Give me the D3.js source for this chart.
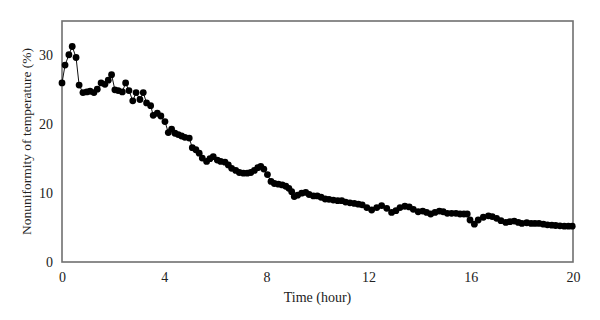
<!DOCTYPE html>
<html>
<head>
<meta charset="utf-8">
<script src="https://cdn.jsdelivr.net/npm/d3@7"></script>
<style>
  html, body { margin: 0; padding: 0; background: #fff; }
  svg { display: block; }
  text { font-family: "Liberation Serif", "DejaVu Serif", serif; fill: #222; }
</style>
</head>
<body>
<svg id="chart" width="600" height="320"></svg>
<script>
const times = [0,0.12,0.27,0.40,0.55,0.67,0.82,0.97,1.10,1.25,1.38,1.53,1.68,1.81,1.94,2.07,2.20,2.36,2.49,2.62,2.77,2.90,3.05,3.18,3.31,3.47,3.57,3.73,3.87,4.03,4.16,4.29,4.42,4.55,4.68,4.81,4.98,5.10,5.24,5.37,5.49,5.66,5.79,5.92,6.08,6.21,6.38,6.51,6.64,6.80,6.94,7.10,7.25,7.39,7.53,7.66,7.78,7.90,8.04,8.18,8.31,8.47,8.62,8.76,8.88,8.99,9.09,9.22,9.38,9.54,9.67,9.84,9.99,10.14,10.30,10.45,10.62,10.79,10.95,11.10,11.27,11.44,11.60,11.75,11.93,12.12,12.32,12.51,12.71,12.90,13.07,13.23,13.42,13.59,13.75,13.94,14.12,14.27,14.43,14.60,14.77,14.92,15.08,15.25,15.42,15.58,15.73,15.86,15.97,16.14,16.29,16.49,16.69,16.84,17.01,17.18,17.37,17.53,17.70,17.86,18.00,18.19,18.36,18.51,18.67,18.84,19.00,19.17,19.32,19.49,19.66,19.82,19.97];
const nonuniformity = [26.0,28.6,30.1,31.3,29.7,25.7,24.6,24.7,24.8,24.6,25.1,26.0,25.8,26.4,27.2,25.0,24.9,24.7,26.0,24.9,23.4,24.6,23.6,24.6,23.1,22.7,21.3,21.6,21.2,20.4,18.8,19.3,18.7,18.5,18.3,18.1,18.0,16.6,16.3,15.8,15.1,14.6,15.0,15.3,14.8,14.6,14.5,14.1,13.6,13.3,13.0,12.9,12.9,13.0,13.3,13.7,13.9,13.5,12.7,11.7,11.4,11.3,11.2,11.0,10.7,10.2,9.5,9.7,10.0,10.1,9.8,9.6,9.6,9.4,9.15,9.1,9.0,8.9,8.9,8.7,8.6,8.5,8.4,8.3,7.9,7.55,7.9,8.2,7.8,7.2,7.45,7.9,8.1,8.0,7.65,7.3,7.4,7.2,6.97,7.2,7.4,7.3,7.07,7.07,7.07,6.97,6.97,6.97,6.1,5.5,6.1,6.5,6.7,6.6,6.35,6.0,5.75,5.85,5.95,5.75,5.6,5.7,5.6,5.6,5.6,5.5,5.4,5.35,5.3,5.25,5.2,5.2,5.2];
const xTicks = [0, 4, 8, 12, 16, 20];
const yTicks = [0, 10, 20, 30];
const xTitle = "Time (hour)";
const yTitle = "Nonuniformity of temperature (%)";

const margin = {left: 62, top: 21, right: 27, bottom: 58};
const W = 600, H = 320;
const svg = d3.select("#chart");
const x = d3.scaleLinear().domain([0, 20]).range([margin.left, W - margin.right]);
const y = d3.scaleLinear().domain([0, 35]).range([H - margin.bottom, margin.top]);

const axisColor = "#707070";
const fontFam = '"Liberation Serif", "DejaVu Serif", serif';
// frame
svg.append("rect")
  .attr("x", x(0)).attr("y", y(35))
  .attr("width", x(20) - x(0)).attr("height", y(0) - y(35))
  .attr("fill", "none").attr("stroke", axisColor).attr("stroke-width", 1.6);

const xAxis = svg.append("g").attr("transform", `translate(0,${y(0)})`)
  .call(d3.axisBottom(x).tickValues(xTicks).tickSize(0).tickPadding(10).tickFormat(d3.format("d")));
xAxis.select(".domain").remove();
xAxis.selectAll("text").style("font-size", "14px").attr("fill", "#222").style("font-family", fontFam);

const yAxis = svg.append("g").attr("transform", `translate(${x(0)},0)`)
  .call(d3.axisLeft(y).tickValues(yTicks).tickSize(0).tickPadding(9).tickFormat(d3.format("d")));
yAxis.select(".domain").remove();
yAxis.selectAll("text").style("font-size", "14px").attr("fill", "#222").style("font-family", fontFam);

svg.append("text")
  .attr("x", (x(0) + x(20)) / 2).attr("y", 302)
  .attr("text-anchor", "middle").style("font-size", "14px").text(xTitle);

svg.append("text")
  .attr("transform", `translate(31,${(y(0) + y(35)) / 2}) rotate(-90)`)
  .attr("text-anchor", "middle").style("font-size", "13.5px").text(yTitle);

const data = times.map((t, i) => ({t, v: nonuniformity[i]}));
const line = d3.line().x(d => x(d.t)).y(d => y(d.v));
svg.append("path").datum(data)
  .attr("d", line).attr("fill", "none").attr("stroke", "#111").attr("stroke-width", 1);

svg.append("g").selectAll("circle").data(data).join("circle")
  .attr("cx", d => x(d.t)).attr("cy", d => y(d.v)).attr("r", 3.4)
  .attr("fill", "#000");
</script>
</body>
</html>
